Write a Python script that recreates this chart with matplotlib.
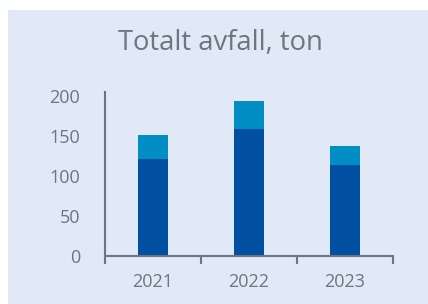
import matplotlib.pyplot as plt
from matplotlib.patches import Rectangle

years = ["2021", "2022", "2023"]
dark_vals = [121, 159, 114]
light_vals = [30, 35, 23.5]
yticks = [0, 50, 100, 150, 200]

dark_col = "#004FA2"
light_col = "#008EC4"
grey = "#6E7480"
bg = "#E2E9F6"

W, H = 428, 304
fig = plt.figure(figsize=(W / 100, H / 100), dpi=100)
fig.patch.set_facecolor("white")
fig.patches.append(Rectangle((8 / W, 0), 1 - 8 / W, 1 - 10 / H, transform=fig.transFigure,
                             facecolor=bg, edgecolor="none", zorder=-1))

ax = fig.add_axes([105 / W, 1 - 256 / H, (393 - 105) / W, 164 / H])
ax.set_zorder(2)
ax.set_facecolor("none")
x = range(len(years))
ax.bar(x, dark_vals, width=0.32, color=dark_col)
ax.bar(x, light_vals, width=0.32, bottom=dark_vals, color=light_col)

ax.set_xlim(-0.5, 2.5)
ax.set_ylim(0, 205)
for s in ["top", "right"]:
    ax.spines[s].set_visible(False)
for s in ["left", "bottom"]:
    ax.spines[s].set_color(grey)
    ax.spines[s].set_linewidth(1.5)

ax.set_xticks([-0.5, 0.5, 1.5, 2.5])
ax.set_xticklabels([])
ax.set_xticks(list(x), minor=True)
ax.set_xticklabels(years, minor=True, fontsize=13, color=grey, family="Open Sans")
ax.tick_params(axis="x", which="major", length=6, width=1.5, color=grey)
ax.tick_params(axis="x", which="minor", length=0, pad=12)

ax.set_yticks(yticks)
ax.set_yticklabels([str(v) for v in yticks], fontsize=13, color=grey, family="Open Sans")
ax.tick_params(axis="y", length=0, pad=18)

fig.text(220 / W, 1 - 43 / H, "Totalt avfall, ton", ha="center", va="center",
         fontsize=19.7, color=grey, family="Open Sans")

fig.savefig("out.png", dpi=100)
